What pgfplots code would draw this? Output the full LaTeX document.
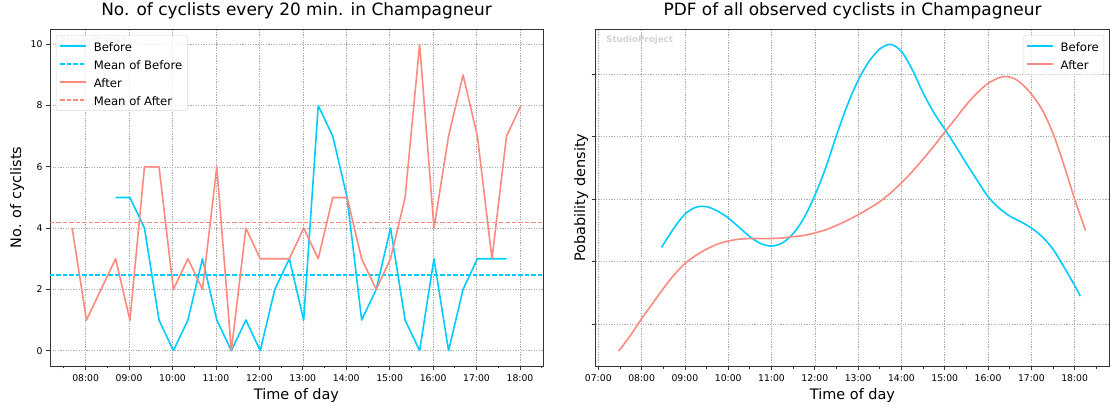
\documentclass[border=0pt]{standalone}
\usepackage{fontspec}
\setmainfont{DejaVu Sans}
\usepackage{pgfplots}
\pgfplotsset{compat=1.18}
\definecolor{cyanB}{HTML}{00CCFF}
\definecolor{salmonA}{HTML}{FC8A7E}
\definecolor{spine}{HTML}{333333}
\pgfplotsset{
  base/.style={
    scale only axis,
    axis line style={line width=0.9bp, spine},
    tick style={line width=0.8bp, spine},
    major tick length=4bp, minor tick length=2.5bp,
    tick align=outside, xtick pos=bottom, ytick pos=left,
    grid=major,
    major grid style={gray!65, dash pattern=on 1.3bp off 1.3bp, line width=0.6bp},
    tick label style={font=\fontsize{9.3}{11}\selectfont},
    xticklabel style={yshift=-1bp},
    /pgf/number format/assume math mode=true,
    title style={at={(0.5,1)}, anchor=base, yshift=8bp, inner sep=0pt, font=\fontsize{17}{20}\selectfont},
    xlabel style={at={(0.5,0)}, anchor=base, yshift=-34bp, inner sep=0pt, font=\fontsize{14.5}{17}\selectfont},
    ylabel style={anchor=base, inner sep=0pt, font=\fontsize{14.5}{17}\selectfont},
    legend style={font=\fontsize{11.7}{18}\selectfont, draw=black!15, rounded corners=2bp,
      fill=white, fill opacity=0.8, text opacity=1, cells={anchor=west}, row sep=0.5bp,
      inner xsep=3bp, inner ysep=2bp},
    legend image code/.code={\draw[#1] (0bp,0bp) -- (26bp,0bp);},
    every axis plot/.append style={line join=round},
  }
}
\newcommand{\lsp}{\rule[-4.5bp]{0pt}{16.5bp}\hspace{5bp}}
\begin{document}
\begin{tikzpicture}
\begin{axis}[base,
  at={(0bp,0bp)}, anchor=south west,
  width=493bp, height=337bp,
  xmin=7.18, xmax=18.53, ymin=-0.5, ymax=10.5,
  xtick={8,9,10,11,12,13,14,15,16,17,18},
  xticklabels={08:00,09:00,10:00,11:00,12:00,13:00,14:00,15:00,16:00,17:00,18:00},
  minor xtick={7.5,8.5,9.5,10.5,11.5,12.5,13.5,14.5,15.5,16.5,17.5,18.5},
  ytick={0,2,4,6,8,10},
  title={No. of cyclists every 20 min. in Champagneur},
  xlabel={Time of day}, ylabel={No. of cyclists},
  ylabel style={at={(axis description cs:-0.0588,0.5)}},
  legend style={at={(axis description cs:0.0122,0.982)}, anchor=north west},
]
\node[anchor=base west, inner sep=0pt, text=gray!35, font=\bfseries\fontsize{8.75}{10}\selectfont] at (axis description cs:0.0203,0.9585) {StudioProject};
\addplot[cyanB, line width=1.6bp] coordinates {
(8.69,5) (9.02,5) (9.355,4) (9.69,1) (10.02,0) (10.355,1) (10.69,3) (11.02,1) (11.355,0) (11.69,1)
(12.02,0) (12.355,2) (12.69,3) (13.02,1) (13.355,8) (13.69,7) (14.02,5) (14.355,1) (14.69,2) (15.02,4)
(15.355,1) (15.69,0) (16.02,3) (16.355,0) (16.69,2) (17.02,3) (17.355,3) (17.69,3)};
\addlegendentry{\lsp Before}
\addplot[draw=cyanB, line width=1.5bp, dash pattern=on 4.5bp off 2bp] coordinates {(7.18,2.4643) (18.53,2.4643)};
\addlegendentry{\lsp Mean of Before}
\addplot[salmonA, line width=1.6bp] coordinates {
(7.69,4) (8.02,1) (8.355,2) (8.69,3) (9.02,1) (9.355,6) (9.69,6) (10.02,2) (10.355,3) (10.69,2)
(11.02,6) (11.355,0) (11.69,4) (12.02,3) (12.355,3) (12.69,3) (13.02,4) (13.355,3) (13.69,5) (14.02,5)
(14.355,3) (14.69,2) (15.02,3) (15.355,5) (15.69,10) (16.02,4) (16.355,7) (16.69,9) (17.02,7) (17.355,3)
(17.69,7) (18.02,8)};
\addlegendentry{\lsp After}
\addplot[salmonA, line width=1.2bp, dash pattern=on 4.5bp off 2bp] coordinates {(7.18,4.1875) (18.53,4.1875)};
\addlegendentry{\lsp Mean of After}
\end{axis}
\begin{axis}[base,
  at={(545.7bp,0bp)}, anchor=south west,
  width=513.6bp, height=337bp,
  xmin=6.94, xmax=18.80, ymin=0.333, ymax=5.72,
  xtick={7,8,9,10,11,12,13,14,15,16,17,18},
  xticklabels={07:00,08:00,09:00,10:00,11:00,12:00,13:00,14:00,15:00,16:00,17:00,18:00},
  minor xtick={7.5,8.5,9.5,10.5,11.5,12.5,13.5,14.5,15.5,16.5,17.5,18.5},
  ytick={1,2,3,4,5}, yticklabels={},
  title={PDF of all observed cyclists in Champagneur},
  xlabel={Time of day}, ylabel={Pobability density},
  ylabel style={at={(axis description cs:-0.0208,0.5)}},
  legend style={at={(axis description cs:0.9897,0.982)}, anchor=north east},
]
\node[anchor=base west, inner sep=0pt, text=gray!35, font=\bfseries\fontsize{8.75}{10}\selectfont] at (axis description cs:0.0201,0.9614) {StudioProject};
\addplot[cyanB, line width=1.6bp, smooth] coordinates {
(8.46,2.23) (8.75,2.54) (9.00,2.76) (9.25,2.87) (9.50,2.88) (9.75,2.81) (10.00,2.70) (10.25,2.55)
(10.50,2.40) (10.75,2.29) (11.00,2.25) (11.25,2.30) (11.50,2.45) (11.75,2.70) (12.00,3.06) (12.25,3.50)
(12.50,4.02) (12.75,4.50) (13.00,4.90) (13.25,5.20) (13.50,5.40) (13.75,5.475) (14.00,5.36) (14.25,5.07)
(14.50,4.70) (14.75,4.38) (15.00,4.12) (15.25,3.85) (15.50,3.57) (15.75,3.30) (16.00,3.04) (16.25,2.86)
(16.50,2.73) (16.75,2.64) (17.00,2.54) (17.25,2.40) (17.50,2.20) (17.75,1.92) (18.00,1.62) (18.13,1.45)};
\addlegendentry{\lsp Before}
\addplot[salmonA, line width=1.6bp, smooth] coordinates {
(7.47,0.57) (7.75,0.83) (8.00,1.09) (8.25,1.33) (8.50,1.57) (8.75,1.79) (9.00,1.97) (9.25,2.10)
(9.50,2.20) (9.75,2.28) (10.00,2.33) (10.25,2.36) (10.50,2.37) (10.75,2.37) (11.00,2.37) (11.25,2.38)
(11.50,2.40) (11.75,2.42) (12.00,2.46) (12.25,2.51) (12.50,2.58) (12.75,2.66) (13.00,2.75) (13.25,2.85)
(13.50,2.96) (13.75,3.10) (14.00,3.26) (14.25,3.44) (14.50,3.64) (14.75,3.85) (15.00,4.07) (15.25,4.29)
(15.50,4.51) (15.75,4.70) (16.00,4.85) (16.25,4.94) (16.42,4.96) (16.60,4.93) (16.80,4.83) (17.00,4.68)
(17.25,4.43) (17.50,4.05) (17.75,3.55) (18.00,3.00) (18.25,2.50)};
\addlegendentry{\lsp After}
\end{axis}
\pgfresetboundingbox
\useasboundingbox (-50bp,-39bp) rectangle (1061bp,366bp);
\end{tikzpicture}
\end{document}
